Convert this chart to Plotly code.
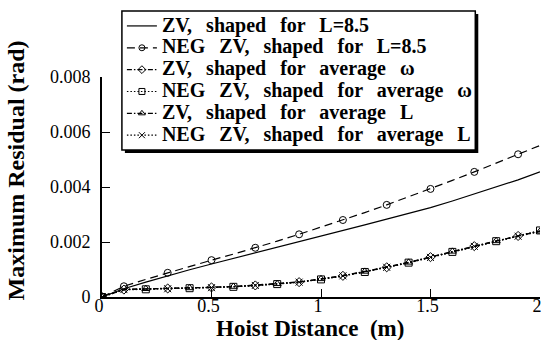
import plotly.graph_objects as go

# Hoist distance grid (m)
hoist = [0.0, 0.1, 0.2, 0.3, 0.4, 0.5, 0.6, 0.7, 0.8, 0.9, 1.0,
         1.1, 1.2, 1.3, 1.4, 1.5, 1.6, 1.7, 1.8, 1.9, 2.0]

# Maximum residual vibration (rad) for each shaper
zv_l85 = [0.0, 0.00030, 0.00054, 0.00077, 0.00099, 0.00120, 0.00140, 0.00160,
          0.00180, 0.00200, 0.00220, 0.00241, 0.00262, 0.00283, 0.00304,
          0.00325, 0.00349, 0.00374, 0.00399, 0.00426, 0.00455]
neg_zv_l85 = [0.0, 0.00039, 0.00064, 0.00088, 0.00111, 0.00134, 0.00156, 0.00179,
              0.00203, 0.00228, 0.00254, 0.00280, 0.00307, 0.00335, 0.00364,
              0.00393, 0.00424, 0.00455, 0.00487, 0.00519, 0.00551]
zv_avg_w = [0.0, 0.00027, 0.00029, 0.00031, 0.00032, 0.00035, 0.00038, 0.00042,
            0.00048, 0.00054, 0.00065, 0.00077, 0.00092, 0.00108, 0.00125,
            0.00145, 0.00165, 0.00185, 0.00203, 0.00222, 0.00240]
neg_zv_avg_w = [0.0, 0.00026, 0.00028, 0.00030, 0.00032, 0.00034, 0.00037, 0.00041,
                0.00047, 0.00054, 0.00064, 0.00076, 0.00091, 0.00107, 0.00125,
                0.00144, 0.00164, 0.00184, 0.00203, 0.00223, 0.00242]
zv_avg_l = [0.0, 0.00028, 0.00030, 0.00031, 0.00033, 0.00035, 0.00038, 0.00043,
            0.00048, 0.00055, 0.00066, 0.00078, 0.00093, 0.00109, 0.00126,
            0.00146, 0.00166, 0.00185, 0.00204, 0.00222, 0.00239]
neg_zv_avg_l = [0.0, 0.00027, 0.00029, 0.00030, 0.00032, 0.00034, 0.00038, 0.00042,
                0.00047, 0.00054, 0.00065, 0.00077, 0.00092, 0.00108, 0.00124,
                0.00144, 0.00164, 0.00184, 0.00202, 0.00221, 0.00238]

# Grid indices that carry a symbol
odd_idx = [1, 3, 5, 7, 9, 11, 13, 15, 17, 19]
low_odd_idx = [0, 1, 3, 5, 7, 9, 11, 13, 15, 17, 19]
low_even_idx = [0, 2, 4, 6, 8, 10, 12, 14, 16, 18, 20]

SERIF = "Times New Roman, Liberation Serif, Times, serif"
NB = "\u00a0"
GAP = " " + NB + "\u2009"

# plot area in pixels
W, H = 544, 340
L, R, T, B = 102, 2, 77, 43
PW, PH = W - L - R, H - T - B


def px_x(p):
    return (p - L) / PW


def px_y(p):
    return (H - B - p) / PH


def lbl(s):
    return '<span style="font-size:20px">' + s.replace(" ", GAP) + "</span>"


series = [
    ("ZV, shaped for L=8.5", zv_l85, "solid", None, []),
    ("NEG ZV, shaped for L=8.5", neg_zv_l85, "8px,5px", "circle-open", odd_idx),
    ("ZV, shaped for average \u03c9", zv_avg_w, "5px,2px,1.5px,2px", "diamond-open", low_odd_idx),
    ("NEG ZV, shaped for average \u03c9", neg_zv_avg_w, "1.5px,2px", "square-open", low_even_idx),
    ("ZV, shaped for average L", zv_avg_l, "5px,2px,1.5px,2px", "triangle-up-open", low_even_idx),
    ("NEG ZV, shaped for average L", neg_zv_avg_l, "1.5px,2px", "x-thin-open", low_odd_idx),
]

fig = go.Figure()
for name, vals, dash, sym, idx in series:
    fig.add_trace(go.Scatter(
        x=hoist, y=vals, mode="lines", showlegend=False, hoverinfo="skip",
        line=dict(color="black", width=1.2, dash=dash),
    ))
    if sym:
        fig.add_trace(go.Scatter(
            x=[hoist[i] for i in idx], y=[vals[i] for i in idx],
            mode="markers", showlegend=False,
            marker=dict(symbol=sym, size=7, color="black",
                        line=dict(color="black", width=1)),
        ))
    # legend entry combining the line style and the symbol
    fig.add_trace(go.Scatter(
        x=[None], y=[None], name=lbl(name),
        mode="lines+markers" if sym else "lines",
        line=dict(color="black", width=1.2, dash=dash),
        marker=dict(symbol=sym or "circle", size=6, color="black",
                    line=dict(color="black", width=1)),
    ))

tick_font = dict(family=SERIF, size=18, color="black")
title_font = dict(family=SERIF, size=23, color="black", weight="bold")

fig.update_layout(
    width=W, height=H,
    margin=dict(l=L, r=R, t=T, b=B),
    paper_bgcolor="white", plot_bgcolor="white",
    font=dict(family=SERIF, color="black"),
    showlegend=True,
    legend=dict(
        x=px_x(122), y=px_y(10), xanchor="left", yanchor="top",
        bgcolor="rgba(0,0,0,0)", borderwidth=0,
        font=dict(family=SERIF, size=14.5, color="black", weight="bold"),
        itemwidth=30, tracegroupgap=0,
    ),
    xaxis=dict(
        range=[0, 2], tickvals=[0, 0.5, 1, 1.5, 2], ticktext=["0", "0.5", "1", "1.5", "2"],
        ticks="inside", ticklen=8, tickwidth=1.2, tickcolor="black",
        showline=True, linecolor="black", linewidth=1.5,
        showgrid=False, zeroline=False, tickfont=tick_font,
        ticklabelshift=-3, ticklabelstandoff=-8,
    ),
    yaxis=dict(
        range=[0, 0.008], tickvals=[0, 0.002, 0.004, 0.006, 0.008],
        ticktext=["0", "0.002", "0.004", "0.006", "0.008"],
        ticks="inside", ticklen=8, tickwidth=1.2, tickcolor="black",
        showline=True, linecolor="black", linewidth=1.8,
        showgrid=False, zeroline=False, tickfont=tick_font,
        ticklabelstandoff=6,
    ),
    annotations=[
        dict(text="Hoist Distance" + NB + NB + "(m)", xref="paper", yref="paper",
             x=px_x(311), y=px_y(328.5), xanchor="center", yanchor="middle",
             showarrow=False, font=title_font),
        dict(text="Maximum Residual (rad)", xref="paper", yref="paper",
             x=px_x(16), y=px_y(170), xanchor="center", yanchor="middle",
             textangle=-90, showarrow=False, font=dict(title_font, size=24)),
    ],
    shapes=[
        # drop shadow of the legend box
        dict(type="rect", xref="paper", yref="paper", layer="above",
             x0=px_x(125), x1=px_x(480), y0=px_y(153), y1=px_y(14),
             fillcolor="black", line=dict(width=0)),
        # legend box
        dict(type="rect", xref="paper", yref="paper", layer="above",
             x0=px_x(122), x1=px_x(477), y0=px_y(150), y1=px_y(11),
             fillcolor="white", line=dict(color="black", width=1.5)),
    ],
)

fig.write_html("out.html")
